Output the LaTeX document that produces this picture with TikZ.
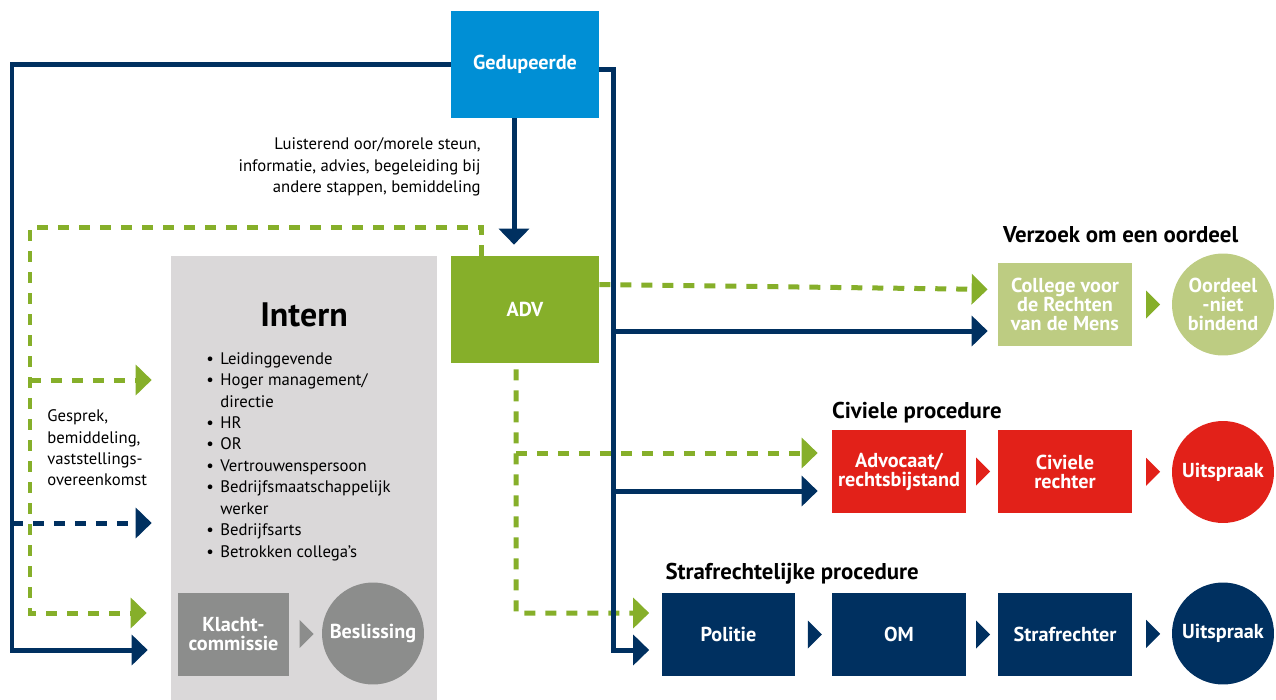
\documentclass[tikz,border=0pt]{standalone}
\usepackage{fontspec}
\setmainfont{PT Sans}
\usetikzlibrary{arrows.meta,positioning,shapes.geometric,calc}

\definecolor{navy}{RGB}{0,48,96}
\definecolor{skyblue}{RGB}{0,143,213}
\definecolor{advgreen}{RGB}{134,175,42}
\definecolor{palegreen}{RGB}{189,204,130}
\definecolor{signalred}{RGB}{226,33,25}
\definecolor{internbg}{RGB}{218,216,217}
\definecolor{stepgray}{RGB}{140,141,140}

\newcommand{\bitem}{\makebox[0.28cm][l]{\textbullet}}
\newcommand{\bcont}{\hspace*{0.28cm}}

\tikzset{
  box/.style={rectangle, inner sep=0pt, minimum width=2.68cm, minimum height=1.66cm, align=center, text=white, font=\bfseries\fontsize{11.5}{10.8}\selectfont},
  endpt/.style={circle, inner sep=0pt, minimum size=2.04cm, align=center, text=white, font=\bfseries\fontsize{11.5}{10.8}\selectfont},
  tri/.style={isosceles triangle, isosceles triangle stretches, inner sep=0pt, minimum width=0.56cm, minimum height=0.28cm},
  nline/.style={draw=navy, line width=0.1cm, -{Triangle[width=0.6cm,length=0.32cm]}},
  ndash/.style={nline, dash pattern=on 0.22cm off 0.2cm},
  gdash/.style={draw=advgreen, line width=0.1cm, dash pattern=on 0.22cm off 0.2cm, -{Triangle[width=0.6cm,length=0.32cm]}},
  head/.style={anchor=base west, inner sep=0pt, font=\bfseries\fontsize{13}{15}\selectfont},
  note/.style={inner sep=0pt, text=black, font=\fontsize{9.5}{12.2}\selectfont}
}

\begin{document}
\begin{tikzpicture}[x=0.02cm, y=-0.02cm]
\useasboundingbox (0,0) rectangle (1276,700);

\node[fill=internbg, inner sep=0pt, minimum width=5.32cm, minimum height=8.88cm] (intern) at (304,478) {};
\node[inner sep=0pt, font=\bfseries\fontsize{19.3}{22}\selectfont] (ttl) at (304,315) {Intern};
\node[note, anchor=west, align=left] (lst) at (206,456.5) {\bitem Leidinggevende\\ \bitem Hoger management/\\ \bcont directie\\ \bitem HR\\ \bitem OR\\ \bitem Vertrouwenspersoon\\ \bitem Bedrijfsmaatschappelijk\\ \bcont werker\\ \bitem Bedrijfsarts\\ \bitem Betrokken collega's};
\node[note, anchor=east, align=right] (ged-txt) at (481,167) {Luisterend oor/morele steun,\\ informatie, advies, begeleiding bij\\ andere stappen, bemiddeling};
\node[note, anchor=west, align=left] (int-txt) at (47,448) {Gesprek,\\ bemiddeling,\\ vaststellings-\\ overeenkomst};

\node[box, fill=skyblue, minimum width=2.96cm, minimum height=2.14cm] (ged) at (525,64.5) {Gedupeerde};
\node[box, fill=advgreen, minimum width=2.96cm, minimum height=2.14cm] (adv) at (525,309.5) {ADV};
\node[box, fill=stepgray, minimum width=2.22cm] (kla) at (233.5,634.5) {Klacht-\\commissie};
\node[endpt, fill=stepgray] (bes) at (373,633.5) {Beslissing};

\node[box, fill=palegreen] (col) at (1065,304.5) {College voor\\de Rechten\\van de Mens};
\node[endpt, fill=palegreen] (oord) at (1223,304.5) {Oordeel\\-niet\\bindend};
\node[box, fill=signalred] (advo) at (899,471.5) {Advocaat/\\rechtsbijstand};
\node[box, fill=signalred] (civ) at (1065,471.5) {Civiele\\rechter};
\node[endpt, fill=signalred] (uitc) at (1223,472) {Uitspraak};
\node[box, fill=navy] (pol) at (728.5,634.5) {Politie};
\node[box, fill=navy] (om) at (899,634.5) {OM};
\node[box, fill=navy] (straf) at (1065,634.5) {Strafrechter};
\node[endpt, fill=navy] (uits) at (1223,633.5) {Uitspraak};

\node[head] (hverz) at ([xshift=0.1cm, yshift=0.4cm]col.north west) {Verzoek om een oordeel};
\node[head] (hciv) at ([yshift=0.22cm]advo.north west) {Civiele procedure};
\node[head] (hstraf) at ([xshift=0.08cm, yshift=0.26cm]pol.north west) {Strafrechtelijke procedure};

\path (kla) -- (bes) node[midway, tri, fill=stepgray] (t1) {};
\path (col) -- (oord) node[midway, tri, fill=advgreen] (t2) {};
\path (advo) -- (civ) node[midway, tri, fill=signalred] (t3) {};
\path (civ) -- (uitc) node[midway, tri, fill=signalred] (t4) {};
\path (pol) -- (om) node[midway, tri, fill=navy] (t5) {};
\path (om) -- (straf) node[midway, tri, fill=navy] (t6) {};
\path (straf) -- (uits) node[midway, tri, fill=navy] (t7) {};

\coordinate (nl) at (12,650);
\coordinate (nr) at (613,650);
\coordinate (nd) at (12,523);
\coordinate (n1) at (613,331);
\coordinate (n2) at (613,491);
\coordinate (gl) at (30,227);
\coordinate (gb) at (30,613);
\coordinate (ga) at (30,380);
\coordinate (gv) at (516,613);
\coordinate (gm) at (516,453);

\draw[gdash, shorten >=0.48cm] ([xshift=-0.88cm]adv.north) |- (gl) -- (gb) -- (intern.west |- gb);
\draw[gdash, shorten >=0.38cm] (ga) -- (intern.west |- ga);
\draw[gdash, shorten >=0.2cm] ([yshift=0.5cm]adv.east) -- ([yshift=0.3cm]col.west);
\draw[gdash, shorten >=0.24cm] ([xshift=-0.18cm, yshift=-0.12cm]adv.south) -- (gv) -- (pol.west |- gv);
\draw[gdash, shorten >=0.28cm] (gm) -- (advo.west |- gm);

\draw[nline, shorten >=0.46cm] (ged.west) -| (nl) -- (intern.west |- nl);
\draw[ndash, shorten >=0.38cm] (nd) -- (intern.west |- nd);
\draw[nline, shorten >=0.24cm] ([yshift=-0.1cm]ged.east) -| (nr) -- (pol.west |- nr);
\draw[nline, shorten >=0.2cm] (n1) -- (col.west |- n1);
\draw[nline, shorten >=0.28cm] (n2) -- (advo.west |- n2);
\draw[nline, shorten >=0.22cm] ([xshift=-0.22cm]ged.south) -- ([xshift=-0.22cm]adv.north);
\end{tikzpicture}
\end{document}
